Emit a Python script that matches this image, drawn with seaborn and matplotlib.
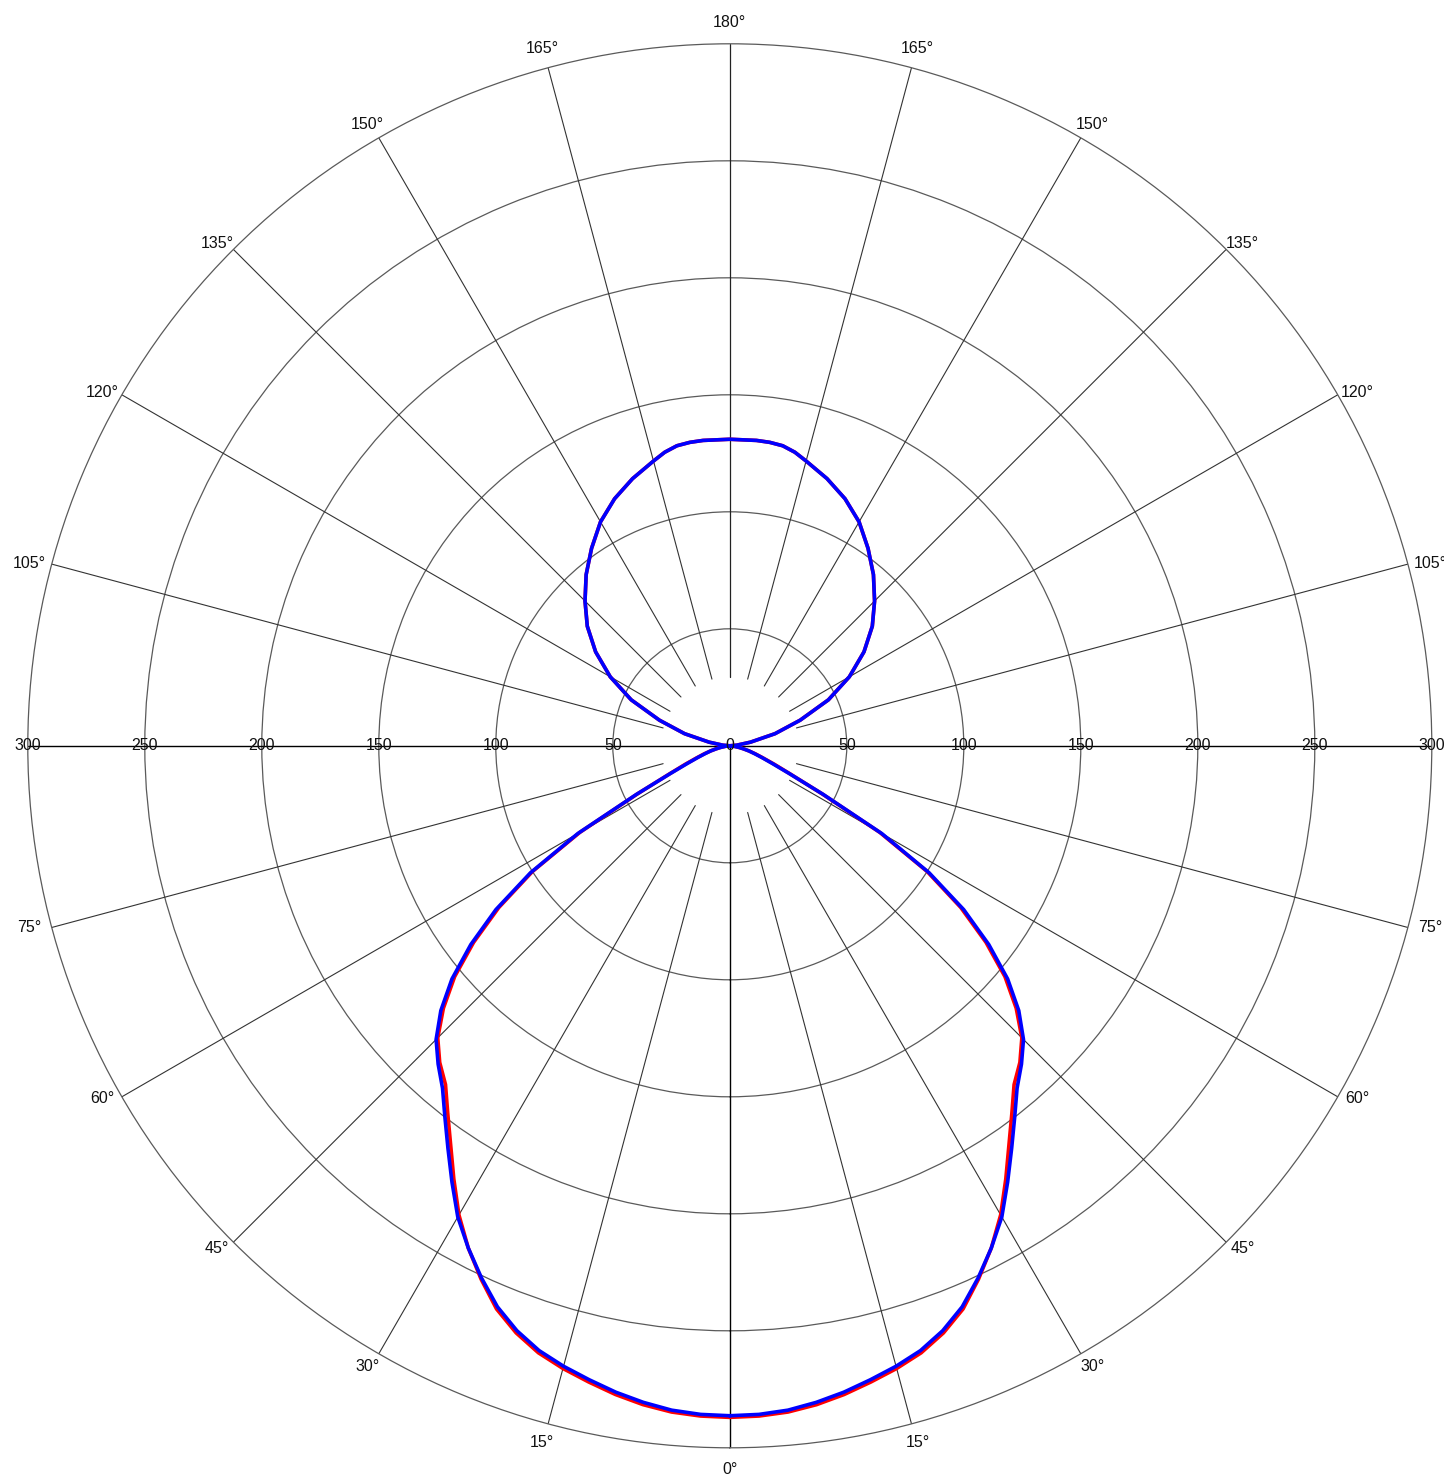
import numpy as np
import pandas as pd
import matplotlib
matplotlib.use("Agg")
import matplotlib.pyplot as plt
import seaborn as sns

# ---- data ----
gamma_lower = [0, 2.5, 5, 7.5, 10, 12.5, 15, 17.5, 20, 22.5, 25, 27.5, 30, 32.5, 35,
               37.5, 40, 42.5, 45, 47.5, 50, 52.5, 55, 57.5, 60, 62.5, 65, 67.5,
               70, 72.5, 75, 77.5, 80, 85, 90]
blue_lower = [286.3, 286, 285, 283, 280.5, 277.5, 274.5, 271, 266, 259.5, 251, 242,
              232.5, 221, 210, 200, 191, 184.5, 177.5, 167.5, 155, 139.5, 122, 101,
              75, 45, 28, 19.5, 14.5, 11, 8.5, 6, 4, 1.5, 0]
red_lower = [287, 286.7, 285.8, 284, 281.5, 278.5, 275.5, 272, 267, 260.5, 251.5, 242,
             231.5, 219.5, 208, 198, 189, 183.5, 176.5, 166, 153.5, 138, 120.5, 100,
             74, 44.5, 28.5, 20.5, 15, 11.5, 8.5, 6, 4, 1.5, 0]

gamma_upper = [90, 95, 100, 105, 110, 115, 120, 125, 130, 135, 140, 145, 150,
               155, 160, 165, 167.5, 170, 172.5, 175, 180]
blue_upper = [0, 3, 9, 20, 32, 46.5, 59, 70, 79.5, 87.5, 95.5, 103, 110.5,
              116.5, 121.5, 126, 128.5, 130.2, 130.8, 131, 131]
red_upper = [0, 3, 9, 20, 32, 46.5, 59, 70, 79.5, 87.5, 95.5, 103, 110.5,
             116.5, 121.5, 126, 128.5, 130.2, 130.8, 131, 131]

ring_values = [50, 100, 150, 200, 250, 300]
angle_ticks = [0, 15, 30, 45, 60, 75, 105, 120, 135, 150, 165, 180]

# ---- figure ----
sns.set_theme(style="white")
plt.rcParams["font.family"] = ["Liberation Sans", "DejaVu Sans"]

W, H = 1444, 1476
fig = plt.figure(figsize=(W / 100, H / 100), dpi=100)
cx, cy, R = 729.8, 745.8, 702.0
ax = fig.add_axes([(cx - R) / W, (H - cy - R) / H, 2 * R / W, 2 * R / H], projection="polar")
ax.set_theta_zero_location("S")
ax.set_theta_direction(1)
ax.set_ylim(0, 300)
ax.set_facecolor("white")

ax.set_xticks([])
ax.set_yticks([50, 100, 150, 200, 250])
ax.set_yticklabels([])
ax.yaxis.grid(True, color="#5a5a5a", linewidth=0.9)
ax.xaxis.grid(False)
ax.spines["polar"].set_color("#5a5a5a")
ax.spines["polar"].set_linewidth(0.9)

# spokes
for a in range(15, 180, 15):
    if a == 90:
        continue
    for s in (1, -1):
        th = np.deg2rad(s * a)
        ax.plot([th, th], [29.5, 300], color="#333333", linewidth=0.8, zorder=1)
ax.plot([np.pi, np.pi], [29.5, 300], color="#222222", linewidth=0.9, zorder=1)
# main axes lines
ax.plot([0, 0], [0, 300], color="black", linewidth=1.0, zorder=1)
ax.plot([np.pi / 2, np.pi / 2], [0, 300], color="black", linewidth=1.0, zorder=1)
ax.plot([-np.pi / 2, -np.pi / 2], [0, 300], color="black", linewidth=1.0, zorder=1)

# ---- curves ----
def build(lower, upper):
    g = list(gamma_lower) + list(gamma_upper[1:])
    r = list(lower) + list(upper[1:])
    th_right = np.deg2rad(g)
    th_left = -np.deg2rad(g[::-1])
    return pd.DataFrame({"theta": np.concatenate([th_right, th_left]),
                         "r": np.concatenate([r, r[::-1]])})

red_df = build(red_lower, red_upper)
blue_df = build(blue_lower, blue_upper)
sns.lineplot(data=red_df, x="theta", y="r", sort=False, estimator=None,
             color="#ff0000", linewidth=2.6, ax=ax, zorder=3)
sns.lineplot(data=blue_df, x="theta", y="r", sort=False, estimator=None,
             color="#0000ff", linewidth=2.6, ax=ax, zorder=4)
for ln in ax.lines[-2:]:
    ln.set_solid_joinstyle("round")
ax.set_xlabel("")
ax.set_ylabel("")
ax.set_ylim(0, 300)

# ---- labels ----
fs = 11.5
for v in ring_values:
    ax.text(np.pi / 2, v, str(v), ha="center", va="center", fontsize=fs, color="#111111", zorder=5)
    ax.text(-np.pi / 2, v, str(v), ha="center", va="center", fontsize=fs, color="#111111", zorder=5)
ax.text(0, 0, "0", ha="center", va="center", fontsize=fs, color="#111111", zorder=5)

for a in angle_ticks:
    sides = (1,) if a in (0, 180) else (1, -1)
    rad = np.deg2rad(a)
    c = np.cos(rad)
    dy = -np.sign(c) * 21.5 * abs(c) ** 3.5 if abs(c) > 1e-9 else 0.0
    for s in sides:
        dx = s * 23 * np.sin(rad)
        ax.annotate(f"{a}°", xy=(np.deg2rad(s * a), 300), xytext=(dx, dy),
                    textcoords="offset pixels", ha="center", va="center",
                    fontsize=fs, color="#111111", annotation_clip=False)

fig.savefig("out.png", dpi=100, facecolor="white")
